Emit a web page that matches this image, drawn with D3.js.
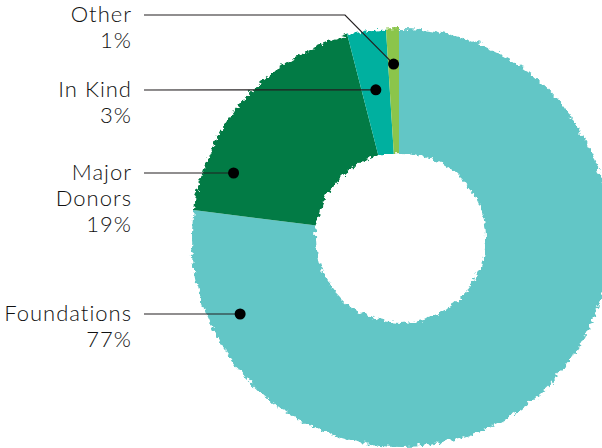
<!DOCTYPE html>
<html>
<head>
<meta charset="utf-8">
<script src="https://cdn.jsdelivr.net/npm/d3@7"></script>
<style>
  body { margin: 0; background: #fff; }
  text { font-family: Lato, sans-serif; font-weight: 300; fill: #111; letter-spacing: 1px; }
</style>
</head>
<body>
<div id="chart-area"></div>
<script>
// Data
const CATEGORIES = ['Foundations', 'Major Donors', 'In Kind', 'Other']
const VALUES = [77, 19, 3, 1]
const LABEL_LINES = [['Foundations', '77%'], ['Major', 'Donors', '19%'], ['In Kind', '3%'], ['Other', '1%']]
const COLORS = ['#62c6c6', '#027b45', '#00b09f', '#8bc54b']

// Sizing
const WIDTH = 602
const HEIGHT = 448
const CX = 399
const CY = 236
const OUTER = 209
const INNER = 85

const svg = d3.select('#chart-area').append('svg')
	.attr('width', WIDTH)
	.attr('height', HEIGHT)

// rough edge: displace a plain ring and use it as mask
const defs = svg.append('defs')
const filter = defs.append('filter')
	.attr('id', 'rough')
	.attr('x', '-10%').attr('y', '-10%')
	.attr('width', '120%').attr('height', '120%')
filter.append('feTurbulence')
	.attr('type', 'turbulence')
	.attr('baseFrequency', 0.13)
	.attr('numOctaves', 2)
	.attr('seed', 3)
	.attr('result', 'noise')
filter.append('feDisplacementMap')
	.attr('in', 'SourceGraphic')
	.attr('in2', 'noise')
	.attr('scale', 7)
	.attr('xChannelSelector', 'R')
	.attr('yChannelSelector', 'G')

const mask = defs.append('mask')
	.attr('id', 'ring')
	.attr('maskUnits', 'userSpaceOnUse')
	.attr('x', 0).attr('y', 0).attr('width', WIDTH).attr('height', HEIGHT)
const mg = mask.append('g').attr('filter', 'url(#rough)')
mg.append('rect').attr('x', 0).attr('y', 0).attr('width', WIDTH).attr('height', HEIGHT).attr('fill', 'black')
mg.append('circle').attr('cx', CX).attr('cy', CY).attr('r', OUTER).attr('fill', 'white')
mg.append('circle').attr('cx', CX).attr('cy', CY).attr('r', INNER).attr('fill', 'black')

const pie = d3.pie().sort(null).value(d => d)
const arcs = pie(VALUES)

const arc = d3.arc()
	.innerRadius(INNER - 10)
	.outerRadius(OUTER + 10)

const g = svg.append('g')
	.attr('mask', 'url(#ring)')
	.append('g')
	.attr('transform', `translate(${CX}, ${CY})`)

g.selectAll('path')
	.data(arcs)
	.enter().append('path')
	.attr('d', arc)
	.attr('fill', (d, i) => COLORS[i])

// Annotations
const LABEL_X = 132
const LINE_X0 = 144
const LINE_H = 26
// leader line height for each label, and where the dot sits
const annot = [
	{ lineY: 314, r: 177 },
	{ lineY: 173, r: 177 },
	{ lineY: 90, r: 148, mid: true },
	{ lineY: 15, r: 172, mid: true, bendX: 345 }
]

const ann = svg.append('g')
annot.forEach((a, i) => {
	let dx, dy
	if (a.mid) {
		const m = (arcs[i].startAngle + arcs[i].endAngle) / 2
		dx = CX + a.r * Math.sin(m)
		dy = CY - a.r * Math.cos(m)
	} else {
		dy = a.lineY
		dx = CX - Math.sqrt(a.r * a.r - (CY - dy) * (CY - dy))
	}
	const pts = a.bendX
		? [[LINE_X0, a.lineY], [a.bendX, a.lineY], [dx, dy]]
		: [[LINE_X0, a.lineY], [dx, dy]]
	ann.append('path')
		.attr('d', d3.line()(pts))
		.attr('fill', 'none')
		.attr('stroke', '#231f20')
		.attr('stroke-width', 1.2)
	ann.append('circle')
		.attr('cx', dx).attr('cy', dy).attr('r', 5.5)
		.attr('fill', '#000')

	const t = ann.append('text')
		.attr('text-anchor', 'end')
		.attr('font-size', '22px')
	LABEL_LINES[i].forEach((s, k) => {
		t.append('tspan')
			.attr('x', LABEL_X)
			.attr('y', a.lineY + 7 + k * LINE_H)
			.text(s)
	})
})
</script>
</body>
</html>
